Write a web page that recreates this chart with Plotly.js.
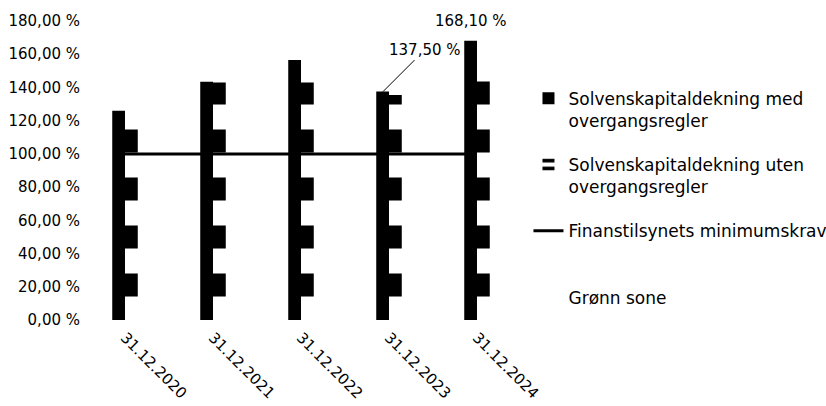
<!DOCTYPE html>
<html>
<head>
<meta charset="utf-8">
<script src="https://cdn.plot.ly/plotly-3.0.1.min.js"></script>
<style>html,body{margin:0;padding:0;background:#fff}#chart{width:826px;height:406px}</style>
</head>
<body>
<div id="chart"></div>
<script>
var categories = ['31.12.2020', '31.12.2021', '31.12.2022', '31.12.2023', '31.12.2024'];
var medOvergang = [126, 143.5, 156.5, 137.5, 168.1];
var utenOvergang = [121, 143, 143, 135.5, 157];
var minimumskrav = [100, 100, 100, 100, 100];
var yTicks = [0, 20, 40, 60, 80, 100, 120, 140, 160, 180];
var labelled = [3, 4];

function pct(v) { return v.toFixed(2).replace('.', ',') + ' %'; }

var font = "'DejaVu Sans', Verdana, sans-serif";

var traces = [
  {
    type: 'bar', name: 'Solvenskapitaldekning med<br>overgangsregler',
    x: categories, y: medOvergang, legendgroup: 'a',
    marker: {color: '#000000', line: {width: 0}}
  },
  {
    type: 'bar', name: 'Solvenskapitaldekning uten<br>overgangsregler',
    x: categories, y: utenOvergang, legendgroup: 'b',
    marker: {color: '#ffffff', line: {width: 0},
      pattern: {shape: '-', fgcolor: '#000000', bgcolor: '#ffffff', size: 48, solidity: 0.48, fillmode: 'replace'}}
  },
  {
    type: 'scatter', mode: 'lines', name: 'Finanstilsynets minimumskrav<br>&nbsp;',
    x: categories, y: minimumskrav, legendgroup: 'c',
    line: {color: '#000000', width: 3}
  },
  {
    type: 'scatter', mode: 'lines', name: 'Grønn sone<br>&nbsp;',
    x: categories, y: [null, null, null, null, null], legendgroup: 'd',
    line: {color: 'rgba(255,255,255,0)', width: 0}, showlegend: true
  }
];

var annotations = [
  {
    x: categories[labelled[0]], y: medOvergang[labelled[0]], xref: 'x', yref: 'y',
    text: pct(medOvergang[labelled[0]]), showarrow: true, arrowhead: 0, arrowwidth: 1,
    arrowcolor: '#000', ax: 42, ay: -42, xshift: -6,
    font: {family: font, size: 15, color: '#000'}
  },
  {
    x: categories[labelled[1]], y: medOvergang[labelled[1]], xref: 'x', yref: 'y',
    text: pct(medOvergang[labelled[1]]), showarrow: false, yanchor: 'bottom',
    xshift: -6, yshift: 9,
    font: {family: font, size: 15, color: '#000'}
  }
];

var layout = {
  width: 826, height: 406,
  margin: {l: 81, r: 305, t: 21, b: 86, autoexpand: false},
  paper_bgcolor: '#ffffff', plot_bgcolor: '#ffffff',
  font: {family: font, size: 15, color: '#000000'},
  barmode: 'group', bargap: 0.71, bargroupgap: 0,
  showlegend: true,
  legend: {
    x: 1.017, xanchor: 'left', y: 0.80, yanchor: 'top',
    font: {family: font, size: 17, color: '#000'},
    valign: 'top', tracegroupgap: 19, traceorder: 'grouped',
    bgcolor: 'rgba(0,0,0,0)'
  },
  xaxis: {
    type: 'category', tickangle: 45, showgrid: false, showline: false,
    zeroline: false, ticks: '', ticklabelstandoff: 5,
    tickfont: {family: font, size: 15, color: '#000'}
  },
  yaxis: {
    range: [0, 180], tickmode: 'array', tickvals: yTicks, ticktext: yTicks.map(pct),
    showgrid: false, showline: false, zeroline: false, ticks: '',
    tickfont: {family: font, size: 15, color: '#000'}
  },
  annotations: annotations
};

Plotly.newPlot('chart', traces, layout, {displayModeBar: false, staticPlot: true});
</script>
</body>
</html>
